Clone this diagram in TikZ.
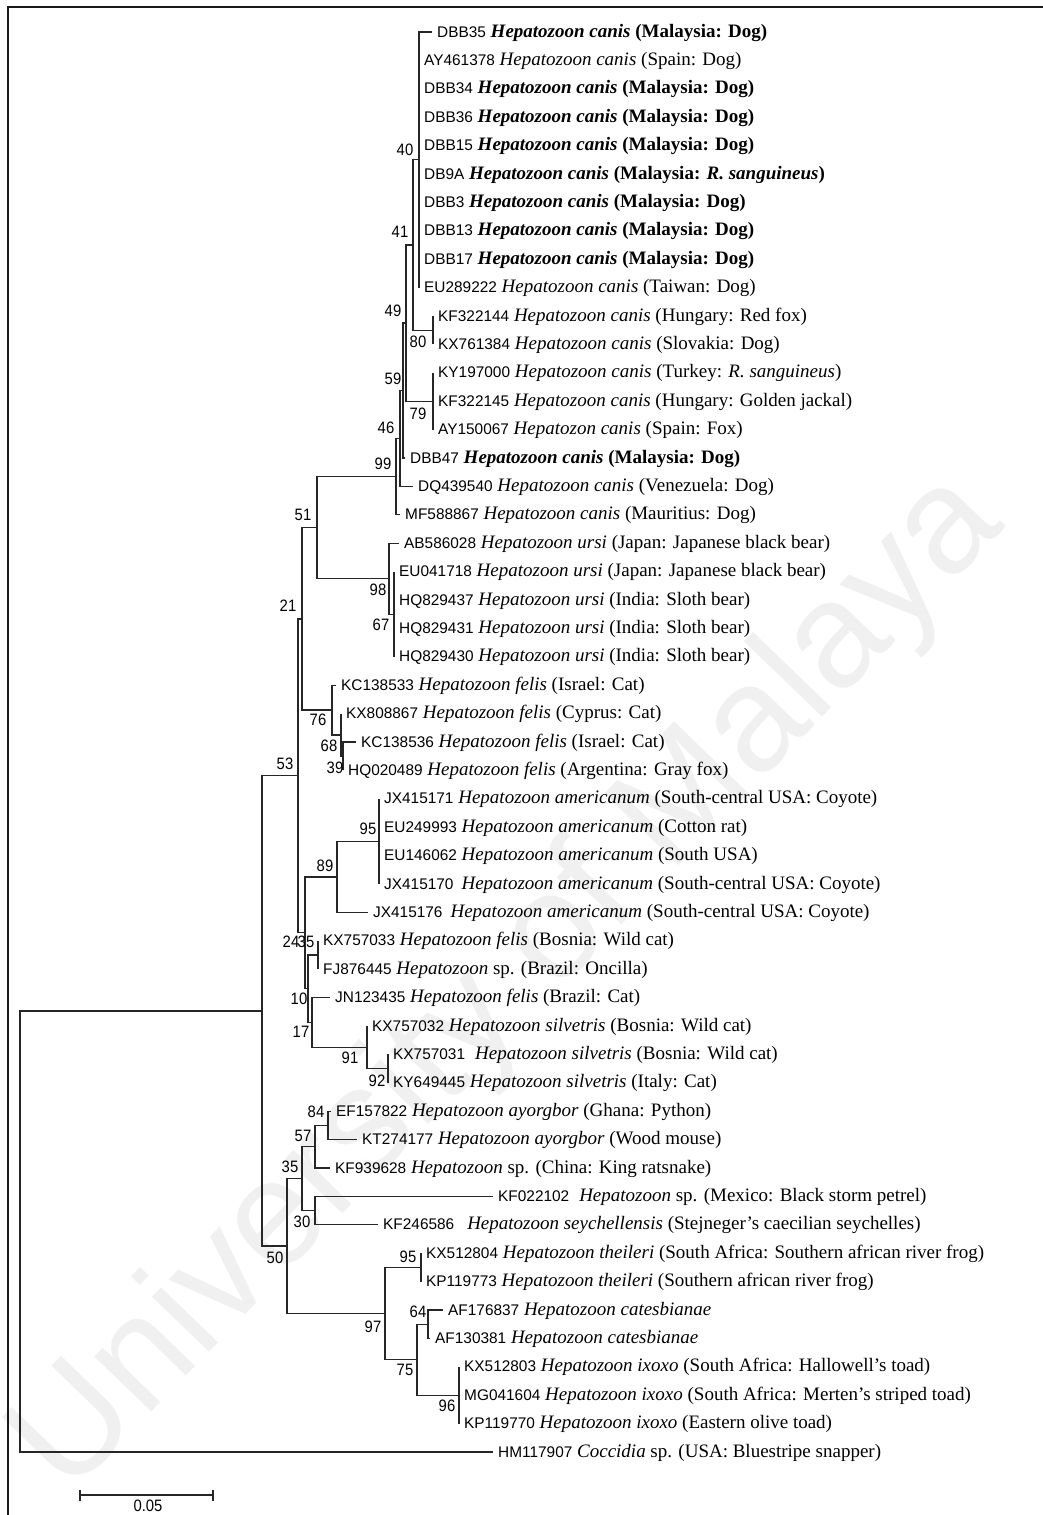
\documentclass[tikz,border=0pt]{standalone}
\usepackage{fontspec}
\setmainfont{Liberation Serif}
\newfontfamily\accfont{Liberation Sans}
\newfontfamily\supfont[FakeStretch=0.9]{Liberation Sans}
\newfontfamily\wmfont{Liberation Sans}
\newcommand\acc[1]{{\accfont\fontsize{15.4}{18}\selectfont #1}}
\newcommand\Hep{\textit{Hepatozoon}}
\newcommand\Hc{\textit{Hepatozoon canis}}
\newcommand\mal{\textbf{\Hc{} (Malaysia: Dog)}}
\begin{document}
\begin{tikzpicture}[x=1pt,y=-1pt,
  branch/.style={line width=1.3pt, draw=black!85},
  leaf/.style={anchor=west, inner xsep=5pt, inner ysep=0pt, text height=12pt, text depth=2pt, font=\fontsize{19}{22}\selectfont},
  boot/.style={inner sep=0pt, font=\supfont\fontsize{16.5}{18}\selectfont},
  frame/.style={line width=1.6pt, draw=black!90}]
\useasboundingbox (0,0) rectangle (1043,1515);

% watermark
\node[rotate=46, text=black!6, font=\wmfont\fontsize{150}{150}\selectfont, inner sep=0pt] (wm) at (510,985) {University of Malaya};

% frame
\draw[frame] (8,1515) -- (8,7) -- (1043,7);

% ---------- leaves ----------
\node[leaf] (l1) at (432,32.0) {\acc{DBB35} \mal};
\node[leaf] (l2) at (419,60.4) {\acc{AY461378} \Hc{} (Spain: Dog)};
\node[leaf] (l3) at (419,88.8) {\acc{DBB34} \mal};
\node[leaf] (l4) at (419,117.2) {\acc{DBB36} \mal};
\node[leaf] (l5) at (419,145.6) {\acc{DBB15} \mal};
\node[leaf] (l6) at (419,174.0) {\acc{DB9A} \textbf{\Hc{} (Malaysia: \textit{R. sanguineus})}};
\node[leaf] (l7) at (419,202.4) {\acc{DBB3} \mal};
\node[leaf] (l8) at (419,230.8) {\acc{DBB13} \mal};
\node[leaf] (l9) at (419,259.2) {\acc{DBB17} \mal};
\node[leaf] (l10) at (419,287.6) {\acc{EU289222} \Hc{} (Taiwan: Dog)};
\node[leaf] (l11) at (433,316.0) {\acc{KF322144} \Hc{} (Hungary: Red fox)};
\node[leaf] (l12) at (433,344.4) {\acc{KX761384} \Hc{} (Slovakia: Dog)};
\node[leaf] (l13) at (433,372.8) {\acc{KY197000} \Hc{} (Turkey: \textit{R. sanguineus})};
\node[leaf] (l14) at (433,401.2) {\acc{KF322145} \Hc{} (Hungary: Golden jackal)};
\node[leaf] (l15) at (433,429.6) {\acc{AY150067} \textit{Hepatozon canis} (Spain: Fox)};
\node[leaf] (l16) at (405,458.0) {\acc{DBB47} \mal};
\node[leaf] (l17) at (413,486.4) {\acc{DQ439540} \Hc{} (Venezuela: Dog)};
\node[leaf] (l18) at (400,514.8) {\acc{MF588867} \Hc{} (Mauritius: Dog)};
\node[leaf] (l19) at (399,543.2) {\acc{AB586028} \textit{Hepatozoon ursi} (Japan: Japanese black bear)};
\node[leaf] (l20) at (394,571.6) {\acc{EU041718} \textit{Hepatozoon ursi} (Japan: Japanese black bear)};
\node[leaf] (l21) at (394,600.0) {\acc{HQ829437} \textit{Hepatozoon ursi} (India: Sloth bear)};
\node[leaf] (l22) at (394,628.4) {\acc{HQ829431} \textit{Hepatozoon ursi} (India: Sloth bear)};
\node[leaf] (l23) at (394,656.8) {\acc{HQ829430} \textit{Hepatozoon ursi} (India: Sloth bear)};
\node[leaf] (l24) at (336,685.2) {\acc{KC138533} \textit{Hepatozoon felis} (Israel: Cat)};
\node[leaf] (l25) at (341,713.6) {\acc{KX808867} \textit{Hepatozoon felis} (Cyprus: Cat)};
\node[leaf] (l26) at (356,742.0) {\acc{KC138536} \textit{Hepatozoon felis} (Israel: Cat)};
\node[leaf] (l27) at (343,770.4) {\acc{HQ020489} \textit{Hepatozoon felis} (Argentina: Gray fox)};
\node[leaf] (l28) at (379,798.8) {\acc{JX415171} \textit{Hepatozoon americanum} (South-central USA: Coyote)};
\node[leaf] (l29) at (379,827.2) {\acc{EU249993} \textit{Hepatozoon americanum} (Cotton rat)};
\node[leaf] (l30) at (379,855.6) {\acc{EU146062} \textit{Hepatozoon americanum} (South USA)};
\node[leaf] (l31) at (379,884.0) {\acc{JX415170}\hspace{8pt}\textit{Hepatozoon americanum} (South-central USA: Coyote)};
\node[leaf] (l32) at (368,912.4) {\acc{JX415176}\hspace{8pt}\textit{Hepatozoon americanum} (South-central USA: Coyote)};
\node[leaf] (l33) at (318,940.8) {\acc{KX757033} \textit{Hepatozoon felis} (Bosnia: Wild cat)};
\node[leaf] (l34) at (318,969.2) {\acc{FJ876445} \Hep{} sp. (Brazil: Oncilla)};
\node[leaf] (l35) at (330,997.6) {\acc{JN123435} \textit{Hepatozoon felis} (Brazil: Cat)};
\node[leaf] (l36) at (367,1026.0) {\acc{KX757032} \textit{Hepatozoon silvetris} (Bosnia: Wild cat)};
\node[leaf] (l37) at (388,1054.4) {\acc{KX757031}\hspace{10pt}\textit{Hepatozoon silvetris} (Bosnia: Wild cat)};
\node[leaf] (l38) at (388,1082.8) {\acc{KY649445} \textit{Hepatozoon silvetris} (Italy: Cat)};
\node[leaf] (l39) at (331,1111.2) {\acc{EF157822} \textit{Hepatozoon ayorgbor} (Ghana: Python)};
\node[leaf] (l40) at (357,1139.6) {\acc{KT274177} \textit{Hepatozoon ayorgbor} (Wood mouse)};
\node[leaf] (l41) at (330,1168.0) {\acc{KF939628} \Hep{} sp. (China: King ratsnake)};
\node[leaf] (l42) at (493,1196.4) {\acc{KF022102}\hspace{10pt}\Hep{} sp. (Mexico: Black storm petrel)};
\node[leaf] (l43) at (378,1224.8) {\acc{KF246586}\hspace{13pt}\textit{Hepatozoon seychellensis} (Stejneger's caecilian seychelles)};
\node[leaf] (l44) at (421,1253.2) {\acc{KX512804} \textit{Hepatozoon theileri} (South Africa: Southern african river frog)};
\node[leaf] (l45) at (421,1281.6) {\acc{KP119773} \textit{Hepatozoon theileri} (Southern african river frog)};
\node[leaf] (l46) at (443,1310.0) {\acc{AF176837} \textit{Hepatozoon catesbianae}};
\node[leaf] (l47) at (430,1338.4) {\acc{AF130381} \textit{Hepatozoon catesbianae}};
\node[leaf] (l48) at (459,1366.8) {\acc{KX512803} \textit{Hepatozoon ixoxo} (South Africa: Hallowell's toad)};
\node[leaf] (l49) at (459,1395.2) {\acc{MG041604} \textit{Hepatozoon ixoxo} (South Africa: Merten's striped toad)};
\node[leaf] (l50) at (459,1423.6) {\acc{KP119770} \textit{Hepatozoon ixoxo} (Eastern olive toad)};
\node[leaf] (l51) at (493,1452.0) {\acc{HM117907} \textit{Coccidia} sp. (USA: Bluestripe snapper)};

% ---------- internal nodes ----------
\coordinate (p40) at (419,159.8);
\coordinate (n80) at (433,330.2);
\coordinate (n41) at (413,245.0);
\coordinate (n79) at (433,401.2);
\coordinate (n49) at (406,323.1);
\coordinate (n59) at (403,390.55);
\coordinate (n46) at (400,438.5);
\coordinate (n99) at (396,476.6);
\coordinate (n67) at (394,614.2);
\coordinate (n98) at (389,578.7);
\coordinate (n51) at (317,527.65);
\coordinate (n39) at (343,756.2);
\coordinate (n68) at (341,734.9);
\coordinate (n76) at (332,710.05);
\coordinate (n21) at (302,618.85);
\coordinate (n95) at (379,841.4);
\coordinate (n89) at (337,876.9);
\coordinate (n35) at (318,955.0);
\coordinate (n92) at (388,1068.6);
\coordinate (n91) at (367,1047.3);
\coordinate (n17) at (312,1022.45);
\coordinate (n10) at (308,988.7);
\coordinate (n24) at (305,932.8);
\coordinate (n53) at (298,775.8);
\coordinate (n84) at (328,1125.4);
\coordinate (n57) at (315,1146.7);
\coordinate (n30) at (315,1210.6);
\coordinate (n35b) at (302,1178.65);
\coordinate (n95b) at (421,1267.4);
\coordinate (n64) at (428,1324.2);
\coordinate (n96) at (459,1395.2);
\coordinate (n75) at (417,1359.7);
\coordinate (n97) at (385,1313.55);
\coordinate (n50) at (287,1246.1);
\coordinate (nin) at (262,1010.95);
\coordinate (root) at (20,1231.5);

% ---------- branches ----------
\foreach \p/\c in {root/nin, root/l51, nin/n53, nin/n50,
  n53/n21, n53/n24, n21/n51, n21/n76, n51/n99, n51/n98,
  n99/n46, n99/l18, n46/n59, n46/l17, n59/n49, n59/l16,
  n49/n41, n49/n79, n41/p40, n41/n80,
  p40/l1, p40/l2, p40/l3, p40/l4, p40/l5, p40/l6, p40/l7, p40/l8, p40/l9, p40/l10,
  n80/l11, n80/l12, n79/l13, n79/l14, n79/l15,
  n98/l19, n98/n67, n67/l20, n67/l21, n67/l22, n67/l23,
  n76/l24, n76/n68, n68/l25, n68/n39, n39/l26, n39/l27,
  n24/n89, n24/n10, n89/n95, n89/l32,
  n95/l28, n95/l29, n95/l30, n95/l31,
  n10/n35, n10/n17, n35/l33, n35/l34,
  n17/l35, n17/n91, n91/l36, n91/n92, n92/l37, n92/l38,
  n50/n35b, n50/n97, n35b/n57, n35b/n30,
  n57/n84, n57/l41, n84/l39, n84/l40, n30/l42, n30/l43,
  n97/n95b, n97/n75, n95b/l44, n95b/l45,
  n75/n64, n75/n96, n64/l46, n64/l47,
  n96/l48, n96/l49, n96/l50}
  \draw[branch] (\p) |- (\c);

% ---------- bootstrap values ----------
\node[boot] (b40) at (405,150) {40};
\node[boot] (b41) at (400,232) {41};
\node[boot] (b49) at (393,311) {49};
\node[boot] (b80) at (418,342) {80};
\node[boot] (b59) at (393,379) {59};
\node[boot] (b79) at (418,414) {79};
\node[boot] (b46) at (386,428) {46};
\node[boot] (b99) at (383,464) {99};
\node[boot] (b51) at (303,515) {51};
\node[boot] (b98) at (378,590) {98};
\node[boot] (b67) at (381,625) {67};
\node[boot] (b21) at (288,606) {21};
\node[boot] (b76) at (318,720) {76};
\node[boot] (b68) at (329,746) {68};
\node[boot] (b39) at (335,768) {39};
\node[boot] (b53) at (285,764) {53};
\node[boot] (b95) at (368,829) {95};
\node[boot] (b89) at (325,866) {89};
\node[boot] (b24) at (291,942) {24};
\node[boot] (b35) at (306,942) {35};
\node[boot] (b10) at (299,999) {10};
\node[boot] (b17) at (301,1032) {17};
\node[boot] (b91) at (350,1058) {91};
\node[boot] (b92) at (377,1081) {92};
\node[boot] (b84) at (316,1112) {84};
\node[boot] (b57) at (303,1136) {57};
\node[boot] (b35b) at (290,1167) {35};
\node[boot] (b30) at (302,1222) {30};
\node[boot] (b50) at (275,1258) {50};
\node[boot] (b95b) at (408,1257) {95};
\node[boot] (b64) at (418,1312) {64};
\node[boot] (b97) at (373,1327) {97};
\node[boot] (b75) at (405,1370) {75};
\node[boot] (b96) at (447,1406) {96};

% ---------- scale bar ----------
\coordinate (s0) at (80,1495);
\coordinate (s1) at (213,1495);
\draw[branch] (s0) -- (s1);
\draw[branch] ([yshift=-6pt]s0) -- ([yshift=5pt]s0);
\draw[branch] ([yshift=-6pt]s1) -- ([yshift=5pt]s1);
\node[boot] (scale) at (148,1506) {0.05};
\end{tikzpicture}
\end{document}
